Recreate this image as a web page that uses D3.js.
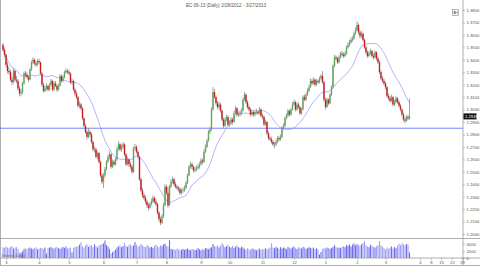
<!DOCTYPE html>
<html>
<head>
<meta charset="utf-8">
<script src="https://cdn.jsdelivr.net/npm/d3@7"></script>
<style>
body { margin: 0; background: #fff; }
svg { display: block; font-family: "Liberation Sans", Arial, sans-serif; }
</style>
</head>
<body>
<svg id="chart" width="480" height="270"></svg>
<script>
// daily bars, prices in pips above 1.2000 (1480 -> 1.3480)
let opens = [
1520,1480,1440,1360,1310,1300,1240,1220,1310,1240,
1230,1170,1130,1140,1210,1290,1280,1260,1240,1320,
1380,1400,1370,1360,1390,1380,1290,1200,1150,1170,
1190,1160,1200,1230,1160,1210,1190,1160,1190,1270,
1230,1260,1300,1310,1300,1290,1220,1230,1160,1130,
1100,1030,1040,1010,930,870,820,780,820,800,
740,680,680,620,650,580,470,420,470,520,
580,620,640,540,580,560,600,680,720,680,
700,720,640,560,600,560,540,500,690,700,
660,620,440,350,310,290,260,230,210,240,
260,290,260,240,170,120,90,140,230,380,
330,230,380,420,440,400,380,370,360,330,
350,350,370,410,470,540,560,540,510,520,
530,540,560,590,580,660,700,750,820,840,
1000,1140,1100,1050,1020,1040,990,920,870,920,
940,880,890,920,900,970,1010,960,960,970,
990,1080,1120,1060,1020,1000,960,980,960,980,
980,970,1000,950,940,880,900,810,770,760,
740,720,720,740,770,760,780,850,870,930,
950,990,960,1000,1040,1060,1000,1040,1020,970,
1000,1100,1080,1120,1150,1180,1230,1210,1240,1200,
1230,1220,1250,1270,1220,1080,1020,1080,1050,1120,
1180,1350,1420,1410,1380,1420,1450,1440,1430,1450,
1500,1520,1540,1560,1570,1610,1640,1680,1620,1590,
1610,1560,1500,1460,1430,1450,1470,1430,1420,1460,
1410,1380,1300,1250,1230,1210,1180,1110,1090,1070,
1100,1040,1060,1090,1060,1030,1000,960,920,910,
940,930];

let highs = [
1535,1500,1450,1385,1340,1320,1265,1330,1320,1270,
1245,1190,1165,1225,1305,1310,1300,1275,1335,1395,
1420,1410,1390,1405,1410,1385,1300,1215,1190,1210,
1200,1215,1245,1240,1225,1230,1205,1205,1285,1280,
1275,1315,1330,1325,1320,1300,1250,1240,1175,1145,
1110,1065,1055,1020,940,885,835,850,835,815,
750,705,695,665,660,590,485,490,540,595,
640,665,650,600,595,615,700,745,735,720,
740,730,650,620,610,580,555,700,725,715,
675,630,450,370,330,310,275,250,260,285,
310,300,280,250,185,140,160,250,400,395,
380,395,440,460,450,420,395,385,375,365,
375,390,425,485,555,580,575,550,540,550,
560,580,610,605,680,720,765,835,860,1020,
1180,1165,1115,1070,1065,1055,1005,935,935,960,
955,915,940,935,990,1030,1020,985,995,1010,
1095,1140,1130,1075,1040,1015,1000,995,1000,1005,
995,1020,1010,970,955,920,910,825,790,780,
755,740,760,785,790,800,865,890,945,970,
1005,1000,1015,1060,1080,1070,1055,1060,1030,1015,
1115,1120,1135,1170,1200,1250,1245,1260,1250,1245,
1240,1265,1285,1310,1230,1095,1095,1090,1135,1195,
1365,1440,1435,1425,1435,1465,1470,1460,1470,1515,
1540,1560,1580,1590,1625,1660,1710,1695,1640,1630,
1620,1570,1515,1475,1470,1490,1480,1450,1475,1470,
1425,1395,1315,1270,1250,1225,1190,1130,1110,1120,
1110,1080,1110,1100,1075,1045,1010,975,940,955,
960,1090];

let lows = [
1465,1420,1340,1290,1280,1225,1195,1210,1225,1210,
1155,1110,1105,1125,1200,1260,1245,1220,1235,1310,
1365,1355,1340,1350,1365,1275,1185,1135,1140,1155,
1145,1150,1190,1145,1150,1180,1140,1150,1185,1215,
1220,1250,1290,1285,1275,1205,1200,1150,1110,1085,
1015,1010,995,915,855,805,760,770,780,725,
665,655,605,600,565,455,400,370,455,510,
570,600,525,530,545,550,590,670,665,660,
685,625,545,550,540,520,485,490,670,645,
600,425,335,290,270,240,210,190,200,230,
250,245,225,155,100,70,80,130,225,315,
210,225,370,405,385,365,350,340,315,315,
330,340,360,400,465,525,520,495,495,505,
515,525,550,560,570,650,690,740,805,830,
990,1085,1035,1000,1005,975,905,850,860,905,
865,860,875,880,895,960,945,940,945,955,
985,1070,1045,1005,985,945,950,940,945,960,
955,960,935,920,865,870,795,755,745,725,
705,690,705,730,745,750,770,840,860,920,
940,945,950,990,1030,985,990,1005,955,960,
995,1065,1070,1110,1140,1175,1195,1200,1185,1190,
1205,1210,1240,1205,1065,1000,1015,1035,1045,1110,
1170,1340,1395,1365,1370,1410,1425,1415,1420,1440,
1490,1505,1530,1545,1560,1600,1630,1605,1570,1575,
1545,1485,1445,1415,1420,1440,1415,1400,1410,1395,
1365,1285,1235,1215,1195,1160,1095,1075,1055,1060,
1025,1030,1050,1045,1015,985,945,905,890,900,
915,920];

let closes = [
1480,1440,1360,1310,1300,1240,1220,1310,1240,1230,
1170,1130,1140,1210,1290,1280,1260,1240,1320,1380,
1400,1370,1360,1390,1380,1290,1200,1150,1170,1190,
1160,1200,1230,1160,1210,1190,1160,1190,1270,1230,
1260,1300,1310,1300,1290,1220,1230,1160,1130,1100,
1030,1040,1010,930,870,820,780,820,800,740,
680,680,620,650,580,470,420,470,520,580,
620,640,540,580,560,600,680,720,680,700,
720,640,560,600,560,540,500,690,700,660,
620,440,350,310,290,260,230,210,240,260,
290,260,240,170,120,90,140,230,380,330,
230,380,420,440,400,380,370,360,330,350,
350,370,410,470,540,560,540,510,520,530,
540,560,590,580,660,700,750,820,840,1000,
1140,1100,1050,1020,1040,990,920,870,920,940,
880,890,920,900,970,1010,960,960,970,990,
1080,1120,1060,1020,1000,960,980,960,980,980,
970,1000,950,940,880,900,810,770,760,740,
720,720,740,770,760,780,850,870,930,950,
990,960,1000,1040,1060,1000,1040,1020,970,1000,
1100,1080,1120,1150,1180,1230,1210,1240,1200,1230,
1220,1250,1270,1220,1080,1020,1080,1050,1120,1180,
1350,1420,1410,1380,1420,1450,1440,1430,1450,1500,
1520,1540,1560,1570,1610,1640,1680,1620,1590,1610,
1560,1500,1460,1430,1450,1470,1430,1420,1460,1410,
1380,1300,1250,1230,1210,1180,1110,1090,1070,1100,
1040,1060,1090,1060,1030,1000,960,920,910,940,
930,945];

let volumes = [
3100,2900,3300,3000,2800,3200,3400,2700,3000,3100,2600,
1600,1500,1900,
2600,2800,2500,2900,3000,2700,2600,2800,3100,2500,2700,2900,2800,2600,3000,
1300,
2800,3000,3100,2900,2700,3000,3200,2800,2600,3000,3100,2900,3300,2700,2800,3000,
1600,
2900,3200,3100,3400,3800,4500,3300,3000,3600,3900,3200,3500,3700,3100,3900,3400,3000,3600,3800,4000,4200,5000,3700,3300,
2600,
1300,1700,2000,2400,
3000,3300,3600,3100,3400,4300,3500,3200,3700,3900,3300,3600,4600,3800,3200,3500,4000,3600,3300,3100,3700,3400,3000,3200,2900,3500,3800,3300,3100,3600,3400,3900,4100,3500,3300,
5100,
2600,2400,2500,2300,2700,2500,2200,2400,2600,2300,2500,2700,2400,2200,2600,2500,2300,2400,2800,2500,2200,2600,2400,2900,2700,2500,2800,3100,
4000,3400,3200,3600,3000,3500,4300,3700,3100,3400,3800,3200,3000,3500,2900,3300,3600,3100,2800,3200,3000,
2600,2400,2800,2500,2300,2700,2600,2400,2200,2500,2700,2300,2600,2400,2800,2500,2700,3000,
4200,
3000,2800,3200,2900,2600,3100,2700,3000,2800,2500,3200,2900,2700,3000,3300,2800,2600,3100,2900,2700,3200,3000,2600,2800,3100,2900,2700,3000,2500,2800,2400,
1000,
1700,2600,2900,2700,3000,2800,2600,2900,3100,3700,3200,2900,3000,2800,3200,3400,3100,3700,
3500,3900,3300,3800,4200,3600,4000,3700,3500,3900,4300,4800,3600,3300,3100,3800,3500,3200,3000,3400,3700,
4800,
3600,3200,2800,2500,3000,2600,2900,3300,2700,3100,2800,
3500,4100,3700,4200,3900,3600,4000,3800,
1600];

// date ticks: bar index and label
let tickIdx = [2, 24, 44, 67, 89, 109, 132, 151, 173, 194, 215, 236, 255, 278, 285.3, 292, 299.3, 306];
let tickLabels = ["3","4","5","6","7","8","9","10","11","12","1","2","3","4","8","15","22","29"];

let priceTicks = [1.38,1.37,1.36,1.35,1.34,1.33,1.32,1.31,1.30,1.29,1.28,1.27,1.26,1.25,1.24,1.23,1.22,1.21,1.20];
let volTicks = [0, 2000, 4000];
let refLine = 1.2850;
let maPeriod = 20;
let title = "EC 06-13 (Daily) 2/28/2012 - 3/27/2013";

let px = function(p) { return 1.2 + p / 10000; };

let bars = closes.map(function(c, i) {
    return {i: i, o: px(opens[i]), h: px(highs[i]), l: px(lows[i]), c: px(c), v: volumes[i]};
});
bars.forEach(function(d, i) {
    let win = bars.slice(Math.max(0, i - maPeriod + 1), i + 1);
    d.ma = d3.mean(win, function(b) { return b.c; });
});

let svg = d3.select("#chart");
let right = 463;

let x = d3.scaleLinear().domain([-2, 306.67]).range([0, right]);
let y = d3.scaleLinear().domain([1.20, 1.38]).range([234, 10]);
let yv = d3.scaleLinear().domain([0, 5714]).range([258, 238]);

// frame lines
let frame = svg.append("g").attr("stroke", "#9a9a9a").attr("stroke-width", 0.8);
frame.append("line").attr("x1", 0.5).attr("x2", 0.5).attr("y1", 0).attr("y2", 265);
frame.append("line").attr("x1", right).attr("x2", right).attr("y1", 0).attr("y2", 265);
frame.append("line").attr("x1", 0).attr("x2", 480).attr("y1", 238.5).attr("y2", 238.5);
frame.append("line").attr("x1", 0).attr("x2", 480).attr("y1", 258).attr("y2", 258);
frame.append("line").attr("x1", 0).attr("x2", 480).attr("y1", 265.5).attr("y2", 265.5);

// title
svg.append("text")
    .attr("x", 226).attr("y", 6.5)
    .attr("text-anchor", "middle")
    .attr("font-size", 4.6)
    .attr("fill", "#555")
    .text(title);

// scroll icon
let icon = svg.append("g").attr("stroke", "#888").attr("fill", "none").attr("stroke-width", 0.6);
icon.append("rect").attr("x", 452.5).attr("y", 9.5).attr("width", 6).attr("height", 6);
icon.append("path").attr("d", "M454,10.8 L456.6,12.5 L454,14.2 Z").attr("fill", "#888");
icon.append("line").attr("x1", 457.3).attr("x2", 457.3).attr("y1", 10.8).attr("y2", 14.2);

// reference line
svg.append("line")
    .attr("x1", 0).attr("x2", right)
    .attr("y1", y(refLine)).attr("y2", y(refLine))
    .attr("stroke", "#5a5aff").attr("stroke-width", 0.8);

// moving average
let maLine = d3.line()
    .x(function(d) { return x(d.i); })
    .y(function(d) { return y(d.ma); });
svg.append("path")
    .datum(bars)
    .attr("d", maLine)
    .attr("fill", "none")
    .attr("stroke", "#9090ff")
    .attr("stroke-width", 0.7);

// candles
let candles = svg.append("g").selectAll("g")
    .data(bars)
    .enter()
    .append("g");

candles.append("line")
    .attr("x1", function(d) { return x(d.i); })
    .attr("x2", function(d) { return x(d.i); })
    .attr("y1", function(d) { return y(d.h); })
    .attr("y2", function(d) { return y(d.l); })
    .attr("stroke", "#7d7d7d")
    .attr("stroke-width", 0.7);

candles.append("rect")
    .attr("x", function(d) { return x(d.i) - 0.7; })
    .attr("width", 1.4)
    .attr("y", function(d) { return y(Math.max(d.o, d.c)); })
    .attr("height", function(d) { return Math.max(0.6, Math.abs(y(d.o) - y(d.c))); })
    .attr("fill", function(d) { return d.c >= d.o ? "#5ea85e" : "#cc1a1a"; });

// volume
svg.append("g").selectAll("rect")
    .data(bars)
    .enter()
    .append("rect")
    .attr("x", function(d) { return x(d.i) - 0.55; })
    .attr("width", 1.1)
    .attr("y", function(d) { return yv(d.v); })
    .attr("height", function(d) { return yv(0) - yv(d.v); })
    .attr("fill", function(d) { return d.c >= d.o ? "#6e6eec" : "#a3a3f5"; });

svg.append("text")
    .attr("x", 1.5).attr("y", 256.5)
    .attr("font-size", 3.6)
    .attr("fill", "#666")
    .text("Volume (Daily)");

// axes
let styleAxis = function(g) {
    g.select(".domain").remove();
    g.selectAll("line").attr("stroke", "#888").attr("stroke-width", 0.5);
    g.selectAll("text").attr("font-size", 4.2).attr("fill", "#555");
};

svg.append("g")
    .attr("transform", "translate(" + right + ",0)")
    .call(d3.axisRight(y).tickValues(priceTicks).tickFormat(d3.format(".4f")).tickSize(2).tickPadding(1.5))
    .call(styleAxis);

svg.append("g")
    .attr("transform", "translate(" + right + ",0)")
    .call(d3.axisRight(yv).tickValues(volTicks).tickFormat(d3.format("d")).tickSize(2).tickPadding(1.5))
    .call(styleAxis);

svg.append("g")
    .attr("transform", "translate(0,258)")
    .call(d3.axisBottom(x).tickValues(tickIdx)
        .tickFormat(function(d, i) { return tickLabels[i]; })
        .tickSize(2).tickPadding(0.8))
    .call(styleAxis);

// last price marker
let last = bars[bars.length - 1];
svg.append("rect")
    .attr("x", right + 0.5).attr("y", y(last.c) - 3)
    .attr("width", 13).attr("height", 6)
    .attr("fill", "#111");
svg.append("text")
    .attr("x", right + 2).attr("y", y(last.c) + 1.5)
    .attr("font-size", 4.2)
    .attr("fill", "#fff")
    .text(d3.format(".4f")(last.c));
</script>
</body>
</html>
